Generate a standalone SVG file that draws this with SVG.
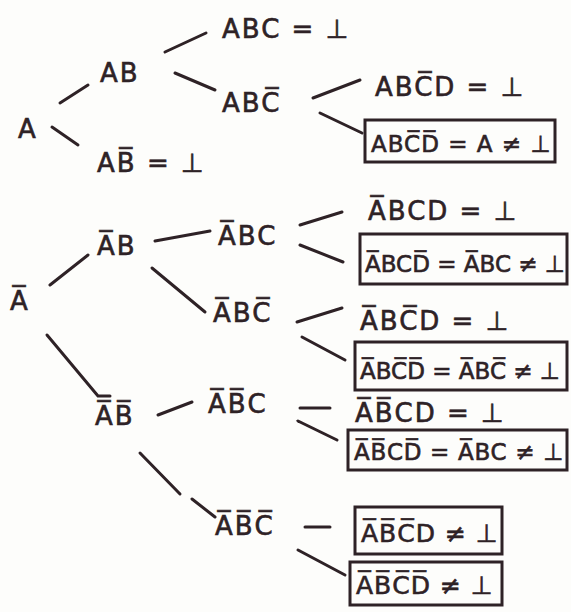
<svg xmlns="http://www.w3.org/2000/svg" width="571" height="612" viewBox="0 0 571 612">
<style>
.t{font-family:"DejaVu Sans","Liberation Sans",sans-serif;font-size:26px;fill:#2e2226;stroke:#2e2226;stroke-width:0.6;letter-spacing:2px}
.k{font-size:23px;letter-spacing:0}
.k1{letter-spacing:1px}
.k2{font-size:25px;letter-spacing:1px}
.c line,.c polyline{stroke:#2e2226;stroke-width:3;stroke-linecap:round;fill:none}
.b{fill:none;stroke:#2e2226;stroke-width:3}
</style>
<rect width="571" height="612" fill="#fdfdfb"/>
<g class="c" id="connectors">
<line x1="60" y1="103" x2="88" y2="85"/>
<line x1="52" y1="127" x2="78" y2="145"/>
<line x1="165" y1="52" x2="206" y2="33"/>
<line x1="175" y1="73" x2="215" y2="90"/>
<line x1="313" y1="98" x2="360" y2="80"/>
<line x1="320" y1="113" x2="362" y2="133"/>
<line x1="50" y1="285" x2="88" y2="255"/>
<polyline points="47,335 98,396 110,396"/>
<line x1="155" y1="241" x2="210" y2="231"/>
<line x1="152" y1="268" x2="205" y2="312"/>
<line x1="300" y1="225" x2="342" y2="212"/>
<line x1="300" y1="245" x2="343" y2="262"/>
<line x1="297" y1="322" x2="342" y2="308"/>
<line x1="302" y1="337" x2="345" y2="360"/>
<line x1="158" y1="415" x2="192" y2="402"/>
<line x1="140" y1="453" x2="180" y2="494"/>
<line x1="192" y1="499" x2="215" y2="517"/>
<line x1="300" y1="408" x2="330" y2="408"/>
<line x1="298" y1="421" x2="337" y2="440"/>
<line x1="305" y1="527" x2="330" y2="527"/>
<line x1="298" y1="550" x2="345" y2="575"/>
</g>
<g id="n-A"><text class="t" x="18" y="138">A</text></g>
<g id="n-AB"><text class="t" x="100" y="82">AB</text></g>
<g id="n-ABnB"><text class="t" x="97" y="172">AB̅ = ⊥</text></g>
<g id="n-ABC"><text class="t" x="222" y="38">ABC = ⊥</text></g>
<g id="n-ABnC"><text class="t" x="222" y="112">ABC̅</text></g>
<g id="n-ABnCD"><text class="t" x="375" y="96">ABC̅D = ⊥</text></g>
<g id="n-ABnCnD"><rect class="b" x="365" y="120" width="190" height="42"/><text class="t k k1" x="371" y="152">ABC̅D̅ = A ≠ ⊥</text></g>
<g id="n-nA"><text class="t" x="10" y="310">A̅</text></g>
<g id="n-nAB"><text class="t" x="97" y="255">A̅B</text></g>
<g id="n-nABC"><text class="t" x="218" y="245">A̅BC</text></g>
<g id="n-nABnC"><text class="t" x="213" y="322">A̅BC̅</text></g>
<g id="n-nABCD"><text class="t" x="368" y="220">A̅BCD = ⊥</text></g>
<g id="n-nABCnD"><rect class="b" x="360" y="234" width="207" height="50"/><text class="t k" x="365" y="272">A̅BCD̅ = A̅BC ≠ ⊥</text></g>
<g id="n-nABnCD"><text class="t" x="360" y="330">A̅BC̅D = ⊥</text></g>
<g id="n-nABnCnD"><rect class="b" x="355" y="342" width="212" height="48"/><text class="t k" x="360" y="379">A̅BC̅D̅ = A̅BC̅ ≠ ⊥</text></g>
<g id="n-nAnB"><text class="t" x="95" y="425">A̅B̅</text></g>
<g id="n-nAnBC"><text class="t" x="208" y="413">A̅B̅C</text></g>
<g id="n-nAnBCD"><text class="t" x="355" y="422">A̅B̅CD = ⊥</text></g>
<g id="n-nAnBCnD"><rect class="b" x="348" y="430" width="219" height="40"/><text class="t k" x="354" y="460" style="letter-spacing:0.7px">A̅B̅CD̅ = A̅BC ≠ ⊥</text></g>
<g id="n-nAnBnC"><text class="t" x="215" y="535">A̅B̅C̅</text></g>
<g id="n-nAnBnCD"><rect class="b" x="355" y="507" width="147" height="47"/><text class="t k2" x="361" y="542">A̅B̅C̅D ≠ ⊥</text></g>
<g id="n-nAnBnCnD"><rect class="b" x="350" y="562" width="152" height="43"/><text class="t k2" x="356" y="594">A̅B̅C̅D̅ ≠ ⊥</text></g>
</svg>
